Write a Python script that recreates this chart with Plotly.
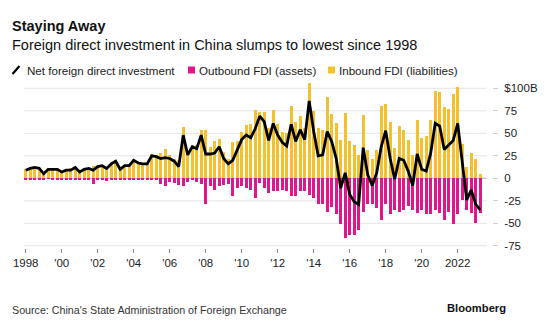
import plotly.graph_objects as go

# ---------------- data (USD billions, quarterly 1998Q1 - 2023Q2) ----------------
quarters = [f"{y}Q{q}" for y in range(1998, 2024) for q in range(1, 5)][:102]

inbound = [10, 12, 13, 12, 7, 11, 11, 11, 8, 10,
           11, 13, 8, 11, 12, 14, 14, 15, 13, 17,
           20, 11, 15, 15, 21, 18, 17, 18, 27, 26,
           28, 33, 26, 22, 20, 57, 30, 37, 37, 54,
           54, 35, 41, 44, 29, 22, 40, 42, 52, 59,
           60, 76, 74, 74, 56, 76, 60, 52, 50, 80,
           63, 69, 56, 106, 75, 56, 54, 90, 72, 61,
           43, 73, 41, 37, 26, 70, 32, 21, 32, 80,
           83, 63, 34, 58, 54, 43, 26, 65, 45, 47,
           65, 97, 96, 79, 77, 94, 102, 38, 13, 28,
           21, 5]

outbound = [-1, -1, -1, -1, -1, -0.5, -1, -1, -1, -1,
            -2, -1, -1, -1, -1, -6, -1, -1, -3, -1,
            -1, -1, -1, -1, -1, -1, -1, -2, -2, -2,
            -6, -9, -4, -5, -7, -9, -4, -2, -4, -6,
            -28, -9, -13, -9, -7, -6, -20, -11, -9, -11,
            -13, -22, -5, -11, -16, -14, -14, -13, -14, -20,
            -20, -14, -14, -18, -22, -28, -28, -37, -32, -40,
            -51, -66, -63, -63, -57, -37, -29, -29, -33, -46,
            -29, -40, -35, -37, -35, -31, -35, -39, -35, -40,
            -40, -35, -39, -46, -37, -51, -40, -24, -35, -39,
            -50, -39]

net = [9, 11, 12, 11, 5, 10, 10, 10, 7, 9,
       9, 12, 7, 10, 11, 9, 13, 14, 11, 16,
       19, 10, 14, 14, 20, 17, 16, 16, 25, 24,
       22, 23, 22, 19, 13, 48, 26, 35, 33, 48,
       27, 27, 28, 35, 22, 16, 20, 31, 43, 48,
       45, 55, 69, 63, 42, 61, 48, 40, 36, 60,
       41, 54, 43, 86, 52, 25, 26, 52, 41, 22,
       -11, 6, -18, -26, -29, 34, 4, -8, 6, 35,
       53, 22, -1, 22, 20, 8, -8, 27, 10, 8,
       28, 61, 58, 32, 37, 42, 61, 15, -24, -13,
       -29, -35]

x_tick_years = [1998, 2000, 2002, 2004, 2006, 2008, 2010, 2012, 2014, 2016, 2018, 2020, 2022]
x_tick_labels = ["1998", "'00", "'02", "'04", "'06", "'08", "'10", "'12", "'14", "'16", "'18", "'20", "2022"]
y_tick_values = [-75, -50, -25, 0, 25, 50, 75, 100]
y_tick_labels = ["-75", "-50", "-25", "0", "25", "50", "75", "$100B"]

# quarter -> position on a continuous year axis
xpos = [int(q[:4]) + (int(q[-1]) - 1) / 4 for q in quarters]

YELLOW = "#F4C12E"
MAGENTA = "#E2168B"
FONT = "Liberation Sans, Arial, sans-serif"

W, H = 551, 328
L, R, T, B = 24, 59, 81, 80
PW, PH = W - L - R, H - T - B

def px(xp):
    return (xp - L) / PW

def py(yp):
    return (H - B - yp) / PH

fig = go.Figure()
fig.add_trace(go.Bar(x=xpos, y=inbound, marker=dict(color=YELLOW, line=dict(width=0)),
                     width=0.17, name="Inbound FDI (liabilities)"))
fig.add_trace(go.Bar(x=xpos, y=outbound, marker=dict(color=MAGENTA, line=dict(width=0)),
                     width=0.17, name="Outbound FDI (assets)"))
fig.add_trace(go.Scatter(x=xpos, y=net, mode="lines", line=dict(color="black", width=2.8),
                         name="Net foreign direct investment"))

x_left = 1998 - 1.7 / 18
x_right = x_left + PW / 18
y_top = (178.3 - T) / 0.9
y_bot = -((H - B) - 178.3) / 0.9

shapes = []
for v in y_tick_values:
    shapes.append(dict(type="line", xref="paper", yref="y", x0=0, x1=px(487), y0=v, y1=v,
                       line=dict(color="#b5b5b5" if v == 0 else "#e4e4e4", width=1), layer="below"))
# legend icons
shapes.append(dict(type="line", xref="paper", yref="paper", x0=px(12.5), x1=px(19.5),
                   y0=py(74), y1=py(66), line=dict(color="black", width=2.2)))
shapes.append(dict(type="rect", xref="paper", yref="paper", x0=px(188), x1=px(195),
                   y0=py(73.5), y1=py(66.5), line=dict(width=0), fillcolor=MAGENTA))
shapes.append(dict(type="rect", xref="paper", yref="paper", x0=px(328), x1=px(335),
                   y0=py(73.5), y1=py(66.5), line=dict(width=0), fillcolor=YELLOW))

ann = []
def text(x, y, s, size, color="#1a1a1a", bold=False, anchor="left"):
    ann.append(dict(xref="paper", yref="paper", x=px(x), y=py(y), text=f"<b>{s}</b>" if bold else s,
                    showarrow=False, xanchor=anchor, yanchor="middle",
                    font=dict(family=FONT, size=size, color=color)))

text(10, 26.5, "Staying Away", 14.5, "#111", bold=True)
text(10, 44.5, "Foreign direct investment in China slumps to lowest since 1998", 14.5, "#111")
text(24.5, 70, "Net foreign direct investment", 11.6)
text(197, 70, "Outbound FDI (assets)", 11.6)
text(337, 70, "Inbound FDI (liabilities)", 11.6)
text(10, 309.5, "Source: China's State Administration of Foreign Exchange", 10.7, "#333")
text(508, 308, "Bloomberg", 11.2, "#111", bold=True, anchor="right")

fig.update_layout(
    width=W, height=H,
    margin=dict(l=L, r=R, t=T, b=B, pad=0),
    paper_bgcolor="white", plot_bgcolor="white",
    barmode="relative", bargap=0,
    showlegend=False,
    shapes=shapes, annotations=ann,
    font=dict(family=FONT, color="#222"),
    xaxis=dict(range=[x_left, x_right], tickvals=x_tick_years, ticktext=x_tick_labels,
               ticks="outside", ticklen=4, tickcolor="#888", tickwidth=1,
               showgrid=False, zeroline=False, showline=False,
               tickfont=dict(size=11.5, color="#222", family=FONT)),
    yaxis=dict(range=[y_bot, y_top], side="right", tickvals=y_tick_values, ticktext=y_tick_labels,
               ticks="outside", ticklen=5, tickcolor="#cfcfcf", tickwidth=1,
               ticklabelstandoff=4,
               showgrid=False, zeroline=False, showline=False,
               tickfont=dict(size=11.5, color="#222", family=FONT)),
)

fig.write_html("out.html")
